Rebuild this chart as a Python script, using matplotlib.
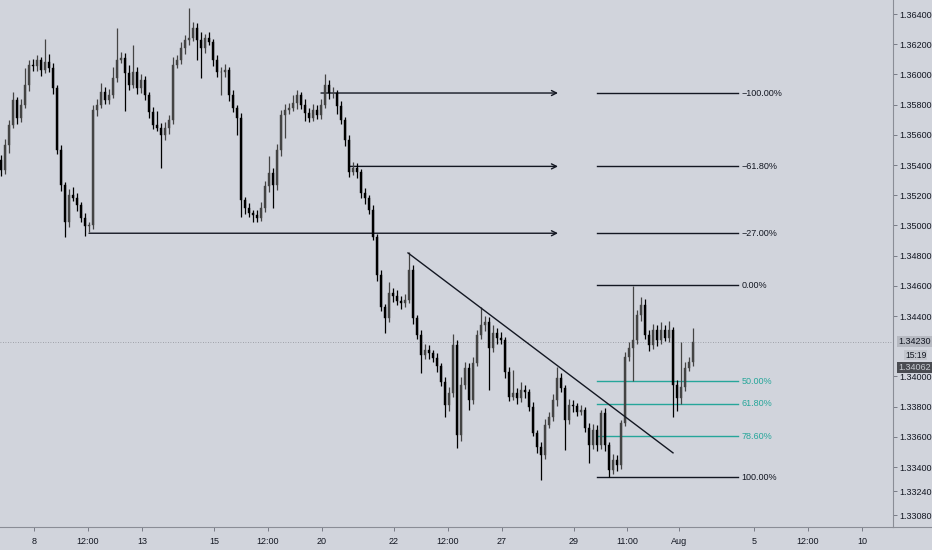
import matplotlib.pyplot as plt
import numpy as np
from matplotlib.lines import Line2D

# close prices, one per bar
closes = [
    1.35368, 1.35533, 1.35666, 1.35831, 1.35712, 1.35798, 1.35930, 1.36063, 1.36056, 1.36096,
    1.36030, 1.36083, 1.36043, 1.35910, 1.35500, 1.35268, 1.35023, 1.35202, 1.35182, 1.35136,
    1.35050, 1.34997, 1.35004, 1.35765, 1.35798, 1.35884, 1.35831, 1.35864, 1.35977, 1.36096,
    1.36109, 1.36010, 1.35930, 1.36016, 1.35910, 1.35963, 1.35864, 1.35752, 1.35666, 1.35646,
    1.35599, 1.35646, 1.35699, 1.36063, 1.36096, 1.36175, 1.36228, 1.36241, 1.36308, 1.36228,
    1.36175, 1.36241, 1.36215, 1.36096, 1.36016, 1.36016, 1.36030, 1.35864, 1.35778, 1.35712,
    1.35169, 1.35116, 1.35083, 1.35070, 1.35050, 1.35116, 1.35262, 1.35348, 1.35268, 1.35500,
    1.35732, 1.35765, 1.35778, 1.35811, 1.35864, 1.35798, 1.35745, 1.35712, 1.35765, 1.35732,
    1.35798, 1.35930, 1.35877, 1.35877, 1.35791, 1.35699, 1.35566, 1.35354, 1.35381, 1.35354,
    1.35215, 1.35182, 1.35103, 1.34924, 1.34673, 1.34461, 1.34388, 1.34553, 1.34533, 1.34500,
    1.34487, 1.34507, 1.34706, 1.34388, 1.34275, 1.34143, 1.34176, 1.34156, 1.34123, 1.34070,
    1.33964, 1.33812, 1.33891, 1.34209, 1.33613, 1.33944, 1.34057, 1.33845, 1.34090, 1.34275,
    1.34342, 1.34361, 1.34189, 1.34289, 1.34255, 1.34242, 1.34030, 1.33865, 1.33891, 1.33858,
    1.33911, 1.33898, 1.33799, 1.33627, 1.33534, 1.33481, 1.33680, 1.33733, 1.33845, 1.33991,
    1.33925, 1.33713, 1.33812, 1.33805, 1.33766, 1.33779, 1.33660, 1.33547, 1.33647, 1.33547,
    1.33759, 1.33547, 1.33382, 1.33448, 1.33415, 1.33693, 1.34130, 1.34189, 1.34242, 1.34408,
    1.34474, 1.34275, 1.34209, 1.34308, 1.34242, 1.34308, 1.34255, 1.34308, 1.33944, 1.33858,
    1.33931, 1.34057, 1.34097, 1.34230,
]
first_open = 1.35434

# wick lengths in pips above / below the body
wick_up = [
    3, 4, 3, 5, 2, 4, 11, 3, 4, 3,
    2, 15, 5, 3, 2, 3, 2, 4, 5, 3,
    2, 3, 2, 3, 4, 6, 3, 4, 7, 21,
    4, 3, 5, 18, 3, 4, 3, 2, 3, 9,
    3, 4, 3, 5, 3, 4, 3, 20, 4, 3,
    5, 3, 4, 2, 3, 3, 4, 2, 3, 2,
    3, 2, 3, 2, 3, 4, 3, 11, 3, 4,
    3, 4, 3, 5, 3, 2, 4, 3, 4, 3,
    4, 7, 3, 4, 2, 3, 2, 3, 4, 3,
    2, 3, 2, 3, 2, 3, 2, 7, 3, 4,
    3, 4, 12, 3, 2, 3, 4, 3, 2, 3,
    2, 3, 4, 7, 3, 5, 4, 3, 4, 3,
    12, 4, 3, 5, 3, 4, 2, 3, 15, 3,
    5, 3, 2, 3, 2, 3, 4, 3, 4, 7,
    3, 2, 4, 3, 2, 3, 2, 3, 4, 3,
    2, 3, 2, 4, 3, 2, 3, 4, 36, 3,
    5, 4, 3, 4, 3, 5, 3, 6, 2, 3,
    30, 4, 3, 9,
]
wick_dn = [
    4, 3, 5, 2, 4, 3, 2, 4, 3, 3,
    4, 2, 3, 4, 3, 4, 10, 3, 2, 4,
    3, 7, 4, 3, 4, 2, 3, 3, 2, 3,
    2, 25, 3, 2, 4, 3, 3, 4, 3, 2,
    22, 3, 4, 3, 2, 3, 4, 3, 2, 13,
    20, 3, 2, 4, 3, 15, 3, 4, 3, 11,
    11, 4, 3, 5, 3, 2, 3, 4, 15, 3,
    4, 15, 3, 2, 4, 3, 5, 3, 2, 3,
    3, 2, 4, 3, 5, 3, 4, 3, 2, 4,
    3, 4, 3, 2, 4, 3, 10, 3, 4, 3,
    4, 3, 2, 4, 3, 12, 3, 4, 3, 4,
    3, 8, 4, 3, 9, 4, 3, 7, 3, 2,
    3, 4, 28, 3, 4, 3, 4, 3, 2, 4,
    3, 4, 3, 2, 4, 17, 3, 2, 3, 4,
    3, 20, 3, 4, 3, 2, 3, 12, 3, 4,
    3, 4, 5, 3, 4, 3, 2, 3, 22, 3,
    4, 3, 4, 3, 4, 3, 2, 3, 21, 9,
    4, 3, 2, 3,
]

# fibonacci tool
fib_high = 1.34605
fib_low = 1.33333
fib_ratios = [-1.0, -0.618, -0.27, 0.0, 0.5, 0.618, 0.786, 1.0]
fib_labels = ['\u2212100.00%', '\u221261.80%', '\u221227.00%', '0.00%', '50.00%', '61.80%', '78.60%', '100.00%']
fib_teal = [False, False, False, False, True, True, True, False]
fib_span = [149, 184.25]
ray_ratios = [-1.0, -0.618, -0.27]
ray_start = [80, 87, 22]
ray_end = 139.25

# trend line
trend_x = [101.75, 168]
trend_y = [1.34818, 1.33494]

last_price = 1.34230
other_price = 1.34062

y_ticks = [1.364, 1.362, 1.360, 1.358, 1.356, 1.354, 1.352, 1.350, 1.348, 1.346,
           1.344, 1.340, 1.338, 1.336, 1.334, 1.3324, 1.3308]
x_tick_pos = [8.25, 21.75, 35.25, 53.25, 66.75, 80.25, 98.25, 111.75, 125.25,
              143.25, 156.5, 169.5, 188.25, 201.75, 215.25]
x_tick_labels = ['8', '12:00', '13', '15', '12:00', '20', '22', '12:00', '27',
                 '29', '11:00', 'Aug', '5', '12:00', '10']

plt.rcParams['font.family'] = ['Liberation Sans Narrow', 'Liberation Sans', 'DejaVu Sans']

bg = '#d1d4dc'
teal = '#26a69a'
pip = 0.0001

fig = plt.figure(figsize=(9.32, 5.5), dpi=100, facecolor=bg)
ax = fig.add_axes([0, 1 - 527 / 550, 893 / 932, 527 / 550])
ax.set_facecolor(bg)

c = np.array(closes)
o = np.array([first_open] + closes[:-1])
hi = np.maximum(o, c) + np.array(wick_up) * pip
lo = np.minimum(o, c) - np.array(wick_dn) * pip
x = np.arange(len(c))
up = c >= o
cols = np.where(up, '#444444', '#000000')

ax.vlines(x, lo, hi, colors=cols, linewidth=0.9, zorder=3)
body = np.maximum(np.abs(c - o), 0.00003)
ax.bar(x, body, bottom=np.minimum(o, c), width=0.6, color=cols, edgecolor=cols,
       linewidth=0.3, zorder=4)

# last price dotted line
ax.axhline(last_price, color='#8f929a', linestyle=(0, (1, 2)), linewidth=0.6, zorder=1)

# fib levels
rng = fib_high - fib_low
for r, lab, t in zip(fib_ratios, fib_labels, fib_teal):
    lvl = fib_high - r * rng
    col = teal if t else '#131722'
    ax.plot(fib_span, [lvl, lvl], color=col, linewidth=1.0, zorder=2)
    ax.text(fib_span[1] + 0.8, lvl, lab, color=col, fontsize=6.5, va='center', ha='left')

# horizontal rays with arrows
for r, xs in zip(ray_ratios, ray_start):
    lvl = fib_high - r * rng
    ax.annotate('', xy=(ray_end, lvl), xytext=(xs, lvl),
                arrowprops=dict(arrowstyle='->', color='#131722', lw=1.0,
                                shrinkA=0, shrinkB=0, mutation_scale=9), zorder=2)

# trend line
ax.plot(trend_x, trend_y, color='#131722', linewidth=1.0, zorder=5)

ax.set_xlim(-0.25, 223)
ax.set_ylim(1.33003, 1.36493)

ax.yaxis.tick_right()
ax.set_yticks(y_ticks)
ax.set_yticklabels(['%.5f' % v for v in y_ticks])
ax.set_xticks(x_tick_pos)
ax.set_xticklabels(x_tick_labels)
ax.tick_params(axis='both', labelsize=6.5, length=3, width=0.6, color='#6a6d78',
               labelcolor='#131722', pad=1.5)
ax.tick_params(axis='x', pad=4)

for s in ['top', 'left']:
    ax.spines[s].set_visible(False)
for s in ['right', 'bottom']:
    ax.spines[s].set_color('#8a8d96')
    ax.spines[s].set_linewidth(0.8)

# bottom border continues under the price scale
fig.add_artist(Line2D([893 / 932, 1], [1 - 527 / 550] * 2, color='#8a8d96', linewidth=0.8))

# price scale labels
def price_y(v):
    lo_, hi_ = ax.get_ylim()
    return (1 - 527 / 550) + (v - lo_) / (hi_ - lo_) * (527 / 550)

fig.text(898 / 932, price_y(last_price), '%.5f' % last_price, fontsize=6.5, color='#131722',
         va='center', ha='left',
         bbox=dict(boxstyle='square,pad=0.12', facecolor='#b6b9c1', edgecolor='none'))
fig.text(905 / 932, 1 - 355 / 550, '15:19', fontsize=6.2, color='#131722', va='center', ha='left',
         bbox=dict(boxstyle='square,pad=0.08', facecolor='#c3c6cd', edgecolor='none'))
fig.text(898 / 932, price_y(other_price), '%.5f' % other_price, fontsize=6.5, color='#c9ccd3',
         va='center', ha='left',
         bbox=dict(boxstyle='square,pad=0.12', facecolor='#4a4c52', edgecolor='none'))

fig.savefig('out.png', dpi=100, facecolor=bg)
